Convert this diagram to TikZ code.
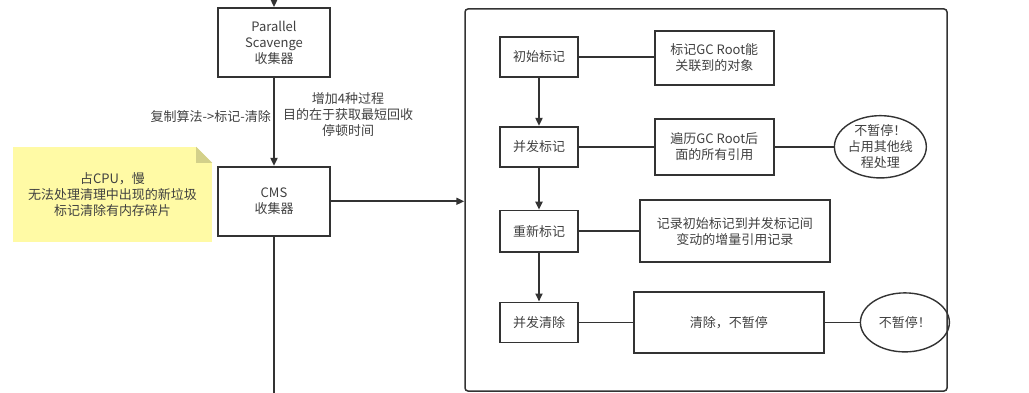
\documentclass[tikz,border=0pt]{standalone}
\usepackage{fontspec}
\newfontfamily\cjk{Noto Sans CJK SC}
\usetikzlibrary{arrows.meta, positioning, shapes.geometric}

\definecolor{linegray}{HTML}{333333}
\definecolor{textgray}{HTML}{404040}
\definecolor{notefill}{HTML}{FFFAA5}
\definecolor{notefold}{HTML}{D3D08A}

\begin{document}
\begin{tikzpicture}[
        x=1pt, y=-1pt,
        font=\cjk\fontsize{13}{16}\selectfont,
        text=textgray,
        node distance=48pt and 75pt,
        block/.style={
            draw=linegray,
            line width=1.8pt,
            align=center,
            inner sep=2pt,
            minimum width=112pt,
            minimum height=69pt
        },
        stage/.style={block, minimum width=78pt, minimum height=40pt},
        detail/.style={block, minimum width=119pt, minimum height=54pt},
        bubble/.style={
            ellipse,
            draw=linegray,
            line width=1.4pt,
            align=center,
            inner sep=0pt,
            minimum width=89pt,
            minimum height=58pt
        },
        frame/.style={
            draw=linegray,
            line width=1.5pt,
            rounded corners=3pt,
            minimum width=482pt,
            minimum height=382pt
        },
        arrow/.style={
            -{Triangle[length=8pt, width=7pt]},
            line width=1.8pt,
            draw=linegray
        },
        link/.style={line width=1.8pt, draw=linegray},
        labeltext/.style={align=center, inner sep=1pt}
    ]

    \useasboundingbox (0,0) rectangle (1029,393);
    \clip (0,0) rectangle (1029,393);

    % collectors
    \node[block] (ps) at (274,42.5) {Parallel\\Scavenge\\收集器};
    \node[block, below=88pt of ps] (cms) {CMS\\收集器};
    \coordinate (from) at (274,-10);
    \coordinate (down) at (274,400);

    \draw[arrow] (from) -- (ps);
    \draw[arrow] (ps) -- (cms);
    \draw[link] (cms) -- (down);
    \node[labeltext, anchor=east] (change) at (272,117) {复制算法->标记-清除};
    \node[labeltext] (goal) at (348,115) {增加4种过程\\目的在于获取最短回收\\停顿时间};

    % note
    \node[fill=notefill, minimum width=199pt, minimum height=95pt, align=center] (note)
        at (112.5,194.5) {占CPU，慢\\无法处理清理中出现的新垃圾\\标记清除有内存碎片};
    \fill[white] (note.north east) -- ++(-16,0) -- ++(16,16) -- cycle;
    \fill[notefold] ([xshift=-16pt]note.north east) -- ++(0,16) -- ++(16,0) -- cycle;

    % phases
    \node[frame] (phases) at (706,200) {};
    \draw[arrow] (cms.east) -- (cms.east -| phases.west);

    \node[stage] (init) at (539,57) {初始标记};
    \node[stage, below=of init] (concur) {并发标记};
    \node[stage, below=42pt of concur, minimum height=41pt] (remark) {重新标记};
    \node[stage, below=49pt of remark] (sweep) {并发清除};

    \node[detail, right=of init, yshift=-1pt] (rootmark) {标记GC Root能\\关联到的对象};
    \node[detail, right=of concur, minimum height=56pt] (trace) {遍历GC Root后\\面的所有引用};
    \node[detail, right=60pt of remark, minimum width=190pt, minimum height=62pt] (record)
        {记录初始标记到并发标记间\\变动的增量引用记录};
    \node[detail, right=54pt of sweep, minimum width=190pt, minimum height=61pt] (clean) {清除，不暂停};
    \node[bubble, right=59pt of trace] (busy) {不暂停！\\占用其他线\\程处理};
    \node[bubble, right=35pt of clean, minimum height=59pt] (free) {不暂停！};

    \draw[arrow] (init) -- (concur);
    \draw[arrow] (concur) -- (remark);
    \draw[arrow] (remark) -- (sweep);
    \draw[link] (init.east) -- (init.east -| rootmark.west);
    \draw[link] (concur.east) -- (concur.east -| trace.west);
    \draw[link] (trace.east) -- (trace.east -| busy.west);
    \draw[link] (remark.east) -- (remark.east -| record.west);
    \draw[link] (sweep.east) -- (sweep.east -| clean.west);
    \draw[link] (clean.east) -- (clean.east -| free.west);

\end{tikzpicture}
\end{document}
